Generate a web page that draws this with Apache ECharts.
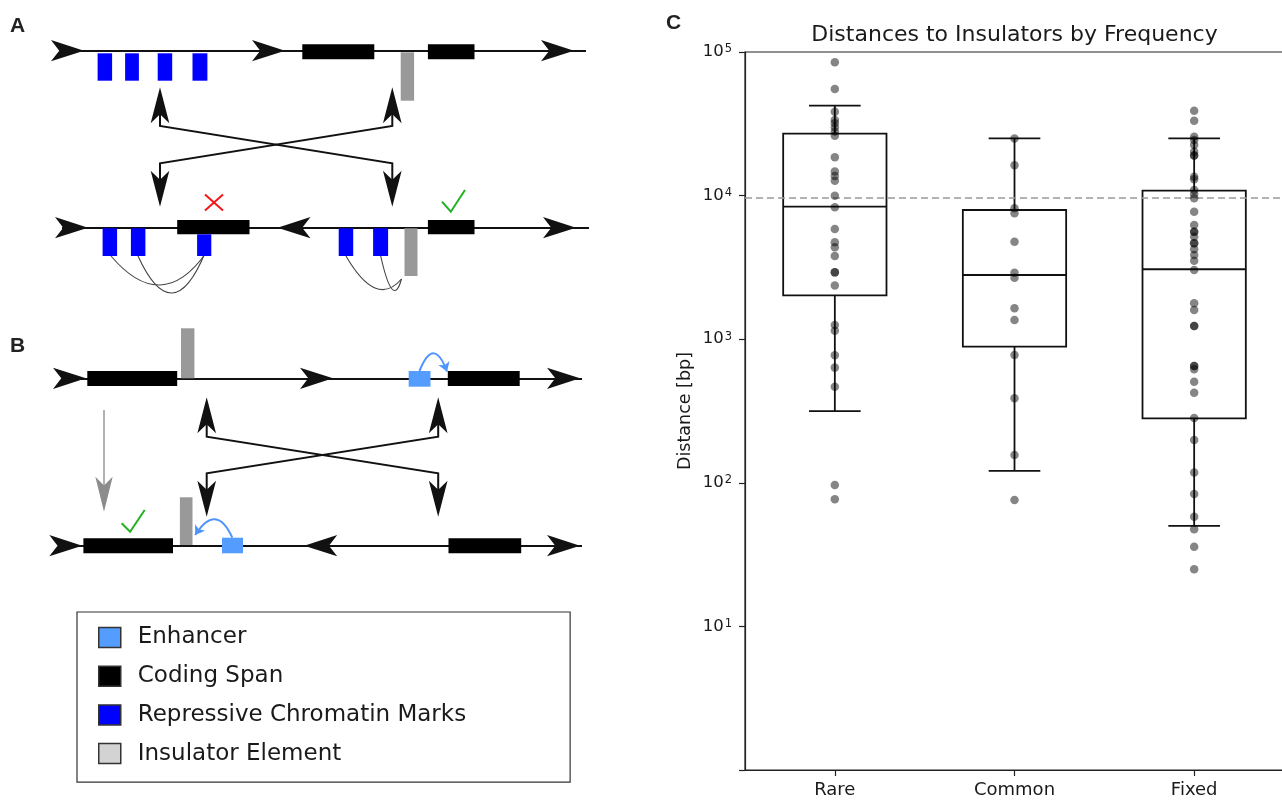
<!DOCTYPE html>
<html>
<head>
<meta charset="utf-8">
<title>Distances to Insulators by Frequency</title>
<script src="https://cdn.jsdelivr.net/npm/echarts@6.0.0/dist/echarts.min.js"></script>
<style>
html, body { margin: 0; padding: 0; background: #fff; }
#main { width: 1282px; height: 800px; }
</style>
</head>
<body>
<div id="main"></div>
<script>
"use strict";

// ---------- panel C : distances (bp) ----------
const categories = ['Rare', 'Common', 'Fixed'];
const rareDist = [84800, 55300, 38400, 33600, 31900, 29900, 27900, 26100, 18500, 14700, 13700, 12700,
    9980, 8300, 5850, 4730, 4360, 3800, 2920, 2920, 2370, 1256, 1146, 773, 634, 467, 96.4, 76.7];
const commonDist = [25000, 16300, 8160, 7530, 4770, 2900, 2680, 1640, 1360, 776, 388, 156, 76];
const fixedDist = [39000, 33200, 25700, 24400, 22500, 20200, 19000, 19000, 13550, 13000, 10950, 10260,
    9580, 7720, 6240, 5610, 5610, 5170, 4650, 4650, 4230, 3860, 3520, 3030, 1780, 1600, 1235, 1235,
    650, 650, 617, 506, 424, 283, 199, 118, 83.5, 58, 47.4, 35.9, 25];
// [lower whisker, q1, median, q3, upper whisker]
const boxStats = [
    [316, 2020, 8370, 27000, 42300],
    [121, 887, 2800, 7940, 25060],
    [50.2, 281, 3070, 10830, 25060]
];
const threshold = 9700;
const decades = [1, 100000];

// ---------- panels A / B : schematic, in diagram units ----------
// chromosome backbones
const backbones = [
    [[60, 50.7], [586, 50.7]],
    [[62, 227.7], [589, 227.7]],
    [[62, 378.3], [582, 378.3]],
    [[58, 545.7], [582, 545.7]]
];
// arrow heads on backbones: tip x, tip y, direction
const backboneHeads = [
    [84, 50.7, 'r'], [285, 50.7, 'r'], [574, 50.7, 'r'],
    [88, 227.7, 'r'], [277.5, 227.7, 'l'], [576, 227.7, 'r'],
    [86, 378.3, 'r'], [333, 378.3, 'r'], [580, 378.3, 'r'],
    [82.3, 545.7, 'r'], [304.2, 545.7, 'l'], [580, 545.7, 'r']
];
// inversion (swap) arrows
const swapPaths = [
    [[160, 110], [160, 126], [392.3, 163.3], [392.3, 185]],
    [[392.3, 110], [392.3, 126], [160, 163.3], [160, 185]],
    [[206.7, 420], [206.7, 436.7], [438.2, 473.3], [438.2, 495]],
    [[438.2, 420], [438.2, 436.7], [206.7, 473.3], [206.7, 495]]
];
const swapHeads = [
    [160, 87.3, 'u'], [392.3, 87.3, 'u'], [392.3, 206.7, 'd'], [160, 206.7, 'd'],
    [206.7, 397.3, 'u'], [438.2, 397.3, 'u'], [438.2, 516.7, 'd'], [206.7, 516.7, 'd']
];
const grayPath = [[[104, 410], [104, 492]]];
const grayHeads = [[104, 511.7, 'd']];

// boxes: x0, x1, y0, y1
const codingSpans = [
    [302.3, 374.3, 44.3, 59.3], [427.9, 474.5, 44.3, 59.3],
    [177.2, 249.5, 220, 234.3], [427.9, 474.5, 220, 234.3],
    [87.3, 177.2, 371, 386], [447.8, 519.7, 371, 386],
    [83.4, 173, 538.3, 553.3], [448.5, 521.2, 538.3, 553.3]
];
const repressiveMarks = [
    [97.6, 112.1, 53.3, 80.7], [125.1, 138.9, 53.3, 80.7], [157.7, 172.2, 53.3, 80.7], [192.5, 207.4, 53.3, 80.7],
    [102.6, 117.1, 228.3, 256], [130.9, 145.4, 228.3, 256], [197.1, 211.3, 234.3, 256],
    [338.7, 353.2, 228.3, 256], [373.1, 388.1, 228.3, 256]
];
const insulators = [
    [400.7, 414.1, 52.3, 100.7], [404.5, 417.5, 228.3, 276],
    [181, 194.4, 328.3, 378.3], [179.9, 192.5, 497.3, 545]
];
const enhancers = [
    [408.7, 430.5, 371, 386.7], [222, 243, 537.7, 553.3]
];
// looping contacts: start x, y, control x, y, end x, y
const markLoops = [
    [111, 256, 161.5, 315.5, 206, 253],
    [138, 256, 172.5, 331.5, 205, 253],
    [346, 256, 376.3, 308.5, 401.5, 279],
    [380.7, 256, 392.9, 310.5, 401.5, 279]
];
// enhancer contacts: from, to, curveness
const enhancerLoops = [
    [[419.5, 371], [447, 371.5], 1.3],
    [[232.3, 537.7], [195.2, 535], -0.92]
];
const rejectMarks = [
    [[205, 194.5], [223, 210.5]],
    [[223, 194.5], [205, 210.5]]
];
const acceptMarks = [
    [[442, 201.7], [450.8, 211.7], [465, 190]],
    [[121.7, 523.3], [130.1, 531.7], [144.7, 510]]
];

// echarts' arrow symbol has its tip on the data point
const rotations = { r: -90, l: 90, u: 0, d: 180 };
const toHeads = heads => heads.map(([x, y, d]) => ({ value: [x, y], symbolRotate: rotations[d] }));

const toLines = paths => paths.map(p => ({ coords: p }));

const renderRect = (params, api) => {
    const a = api.coord([api.value(0), api.value(2)]);
    const b = api.coord([api.value(1), api.value(3)]);
    return {
        type: 'rect',
        shape: {
            x: Math.min(a[0], b[0]), y: Math.min(a[1], b[1]),
            width: Math.abs(b[0] - a[0]), height: Math.abs(b[1] - a[1])
        },
        style: { fill: api.visual('color') }
    };
};

const renderLoop = (params, api) => {
    const p0 = api.coord([api.value(0), api.value(1)]);
    const c = api.coord([api.value(2), api.value(3)]);
    const p1 = api.coord([api.value(4), api.value(5)]);
    return {
        type: 'bezierCurve',
        shape: { x1: p0[0], y1: p0[1], cpx1: c[0], cpy1: c[1], x2: p1[0], y2: p1[1] },
        style: { stroke: '#444', lineWidth: 1.1, fill: 'none' }
    };
};

const rectSeries = (name, data, color) => ({
    type: 'custom',
    name: name,
    xAxisIndex: 0,
    yAxisIndex: 0,
    renderItem: renderRect,
    encode: { x: [0, 1], y: [2, 3] },
    itemStyle: { color: color },
    z: 3,
    data: data
});

const boxFrac = 0.575;
const boxLine = { stroke: '#111', lineWidth: 1.8 };

const renderBox = (params, api) => {
    const i = api.value(0);
    const lo = api.coord([i, api.value(1)]);
    const cx = lo[0];
    const band = api.coord([1, api.value(1)])[0] - api.coord([0, api.value(1)])[0];
    const half = band * boxFrac / 2;
    const cap = half / 2;
    const yLo = lo[1];
    const yQ1 = api.coord([i, api.value(2)])[1];
    const yMed = api.coord([i, api.value(3)])[1];
    const yQ3 = api.coord([i, api.value(4)])[1];
    const yHi = api.coord([i, api.value(5)])[1];
    const seg = (x1, y1, x2, y2) => ({ type: 'line', shape: { x1, y1, x2, y2 }, style: boxLine });
    return {
        type: 'group',
        children: [
            { type: 'rect', shape: { x: cx - half, y: yQ3, width: half * 2, height: yQ1 - yQ3 },
              style: { fill: 'none', stroke: '#111', lineWidth: 1.8 } },
            seg(cx - half, yMed, cx + half, yMed),
            seg(cx, yQ3, cx, yHi),
            seg(cx, yQ1, cx, yLo),
            seg(cx - cap, yHi, cx + cap, yHi),
            seg(cx - cap, yLo, cx + cap, yLo)
        ]
    };
};

const supLabel = v => {
    const e = Math.round(Math.log10(v));
    return e === 0 ? '' : '{b|10}{s|' + e + '}';
};

const pointSeries = (values, idx) => ({
    type: 'scatter',
    xAxisIndex: 1,
    yAxisIndex: 1,
    symbol: 'circle',
    symbolSize: 8.5,
    itemStyle: { color: '#000', opacity: 0.48 },
    z: 5,
    data: values.map(v => [idx, v])
});

const letterStyle = {
    fontFamily: 'Liberation Sans', fontWeight: 'bold', fontSize: 21, color: '#222', lineHeight: 21
};

const chart = echarts.init(document.getElementById('main'), null, { renderer: 'canvas' });

const option = {
    animation: false,
    backgroundColor: '#fff',
    title: [
        { text: 'A', left: 10, top: 16, padding: 0, textStyle: letterStyle },
        { text: 'B', left: 10, top: 336, padding: 0, textStyle: letterStyle },
        { text: 'C', left: 666, top: 13, padding: 0, textStyle: letterStyle },
        {
            text: 'Distances to Insulators by Frequency',
            left: 1014.5, top: 24, padding: 0, textAlign: 'center',
            textStyle: { fontFamily: 'DejaVu Sans', fontSize: 22, fontWeight: 'normal', color: '#1a1a1a', lineHeight: 22 }
        }
    ],
    legend: {
        left: 77,
        top: 612,
        orient: 'vertical',
        icon: 'rect',
        itemWidth: 22,
        itemHeight: 20,
        itemGap: 15.7,
        padding: [14, 104, 17, 21],
        borderColor: '#333',
        borderWidth: 1.2,
        borderRadius: 0,
        backgroundColor: '#fff',
        selectedMode: false,
        textStyle: { fontFamily: 'DejaVu Sans', fontSize: 23, color: '#1a1a1a', lineHeight: 20, padding: [0, 0, 0, 12] },
        itemStyle: { borderColor: '#333', borderWidth: 1.5 },
        data: [
            { name: 'Enhancer' },
            { name: 'Coding Span' },
            { name: 'Repressive Chromatin Marks' },
            { name: 'Insulator Element', itemStyle: { color: '#d3d3d3' } }
        ]
    },
    grid: [
        { left: 0, top: 0, width: 640, height: 800, containLabel: false, outerBoundsMode: 'none', show: false },
        {
            left: 745, top: 52, width: 539, bottom: 30, containLabel: false, outerBoundsMode: 'none',
            show: true, borderColor: '#222', borderWidth: 1.2, backgroundColor: 'transparent'
        }
    ],
    xAxis: [
        { type: 'value', gridIndex: 0, min: 0, max: 640, show: false },
        {
            type: 'category',
            gridIndex: 1,
            data: categories,
            boundaryGap: true,
            axisLine: { show: true, lineStyle: { color: '#222', width: 1.2 } },
            axisTick: { show: true, alignWithLabel: true, length: 6, lineStyle: { color: '#222', width: 1.2 } },
            axisLabel: { margin: 11, fontFamily: 'DejaVu Sans', fontSize: 18, color: '#1a1a1a' },
            splitLine: { show: false }
        }
    ],
    yAxis: [
        { type: 'value', gridIndex: 0, min: 0, max: 800, inverse: true, show: false },
        {
            type: 'log',
            gridIndex: 1,
            logBase: 10,
            min: decades[0],
            max: decades[1],
            name: 'Distance [bp]',
            nameLocation: 'middle',
            nameGap: 51,
            nameTextStyle: { fontFamily: 'DejaVu Sans', fontSize: 17.5, color: '#1a1a1a' },
            axisLine: { show: true, lineStyle: { color: '#222', width: 1.2 } },
            axisTick: { show: true, length: 6, lineStyle: { color: '#222', width: 1.2 } },
            minorTick: { show: false },
            splitLine: { show: false },
            axisLabel: {
                margin: 13,
                formatter: supLabel,
                rich: {
                    b: { fontFamily: 'DejaVu Sans', fontSize: 16.5, lineHeight: 17, color: '#1a1a1a', verticalAlign: 'bottom' },
                    s: { fontFamily: 'DejaVu Sans', fontSize: 11.5, lineHeight: 12, color: '#1a1a1a', verticalAlign: 'bottom', padding: [0, 0, 5, 1] }
                }
            }
        }
    ],
    series: [
        {
            type: 'lines', coordinateSystem: 'cartesian2d', xAxisIndex: 0, yAxisIndex: 0,
            lineStyle: { color: '#111', width: 2, opacity: 1 }, z: 1,
            data: toLines(backbones)
        },
        {
            type: 'scatter', xAxisIndex: 0, yAxisIndex: 0, symbol: 'arrow', symbolSize: [16, 33],
            itemStyle: { color: '#111', opacity: 1 }, z: 4,
            data: toHeads(backboneHeads)
        },
        {
            type: 'lines', coordinateSystem: 'cartesian2d', xAxisIndex: 0, yAxisIndex: 0, polyline: true,
            lineStyle: { color: '#111', width: 2, opacity: 1 }, z: 2,
            data: toLines(swapPaths)
        },
        {
            type: 'scatter', xAxisIndex: 0, yAxisIndex: 0, symbol: 'arrow', symbolSize: [14, 36],
            itemStyle: { color: '#111', opacity: 1 }, z: 4,
            data: toHeads(swapHeads)
        },
        {
            type: 'lines', coordinateSystem: 'cartesian2d', xAxisIndex: 0, yAxisIndex: 0,
            lineStyle: { color: '#999', width: 1.5, opacity: 1 }, z: 2,
            data: toLines(grayPath)
        },
        {
            type: 'scatter', xAxisIndex: 0, yAxisIndex: 0, symbol: 'arrow', symbolSize: [13, 35],
            itemStyle: { color: '#8c8c8c', opacity: 1 }, z: 4,
            data: toHeads(grayHeads)
        },
        {
            type: 'custom', xAxisIndex: 0, yAxisIndex: 0,
            renderItem: renderLoop,
            encode: { x: [0, 2, 4], y: [1, 3, 5] },
            z: 2,
            data: markLoops
        },
        {
            type: 'lines', coordinateSystem: 'cartesian2d', xAxisIndex: 0, yAxisIndex: 0,
            symbol: ['none', 'arrow'], symbolSize: 9,
            lineStyle: { color: '#4d94ff', width: 2, opacity: 1 }, z: 2,
            data: enhancerLoops.map(([a, b, c]) => ({ coords: [a, b], lineStyle: { curveness: c } }))
        },
        {
            type: 'lines', coordinateSystem: 'cartesian2d', xAxisIndex: 0, yAxisIndex: 0,
            lineStyle: { color: '#f01818', width: 2, opacity: 1 }, z: 2,
            data: toLines(rejectMarks)
        },
        {
            type: 'lines', coordinateSystem: 'cartesian2d', xAxisIndex: 0, yAxisIndex: 0, polyline: true,
            lineStyle: { color: '#22b022', width: 2, opacity: 1 }, z: 2,
            data: toLines(acceptMarks)
        },
        rectSeries('Coding Span', codingSpans, '#000000'),
        rectSeries('Repressive Chromatin Marks', repressiveMarks, '#0000ff'),
        rectSeries('Insulator Element', insulators, '#999999'),
        rectSeries('Enhancer', enhancers, '#559cff'),

        // panel C
        {
            type: 'custom',
            xAxisIndex: 1,
            yAxisIndex: 1,
            renderItem: renderBox,
            encode: { x: 0, y: [1, 2, 3, 4, 5] },
            z: 3,
            data: boxStats.map((s, i) => [i].concat(s)),
            markLine: {
                silent: true,
                symbol: 'none',
                label: { show: false },
                lineStyle: { type: [7, 4], color: '#9a9a9a', width: 1.6 },
                data: [{ yAxis: threshold }]
            }
        },
        pointSeries(rareDist, 0),
        pointSeries(commonDist, 1),
        pointSeries(fixedDist, 2)
    ]
};

chart.setOption(option);
</script>
</body>
</html>
